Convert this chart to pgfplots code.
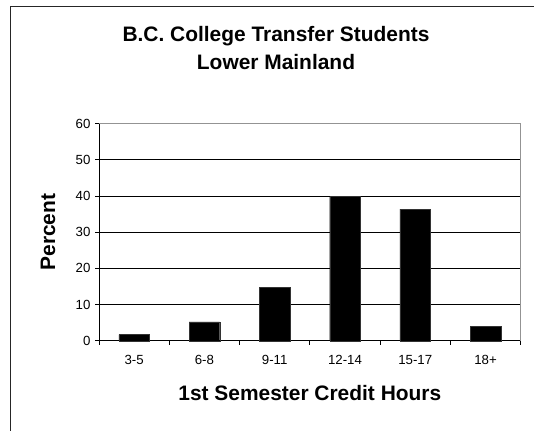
\documentclass[border=0pt]{standalone}
\usepackage{pgfplots}
\pgfplotsset{compat=1.18}
\usepackage{fontspec}
\setmainfont{Liberation Sans}
\begin{document}
\begin{tikzpicture}[x=1bp,y=1bp]
\useasboundingbox (0,0) rectangle (534,430);
\draw[line width=1.3bp, black!85] (10.7,-5) -- (10.7,423.3) -- (545,423.3);
\begin{axis}[
  at={(99bp,89.3bp)}, anchor=south west,
  scale only axis, width=421.7bp, height=217bp,
  xmin=-0.5, xmax=5.5, ymin=0, ymax=60,
  axis lines*=left,
  axis line style={-, black, line width=1bp},
  xtick={0,1,2,3,4,5},
  xticklabels={3-5,6-8,9-11,12-14,15-17,18+},
  minor xtick={-0.5,0.5,1.5,2.5,3.5,4.5,5.5},
  major x tick style={draw=none},
  minor tick length=4bp,
  ytick={0,10,20,30,40,50,60},
  major tick length=4bp,
  tick align=outside,
  tick style={black, line width=0.8bp},
  ymajorgrids,
  grid style={black, line width=0.9bp},
  /pgf/number format/assume math mode=true,
  tick label style={font=\fontsize{13.3}{15}\selectfont},
  xticklabel style={anchor=base, yshift=-20bp},
  yticklabel style={anchor=east, xshift=-1bp},
  xlabel={1st Semester Credit Hours},
  ylabel={Percent},
  label style={font=\fontsize{21}{24}\selectfont\bfseries},
  xlabel style={at={(axis description cs:0.5,-0.2733)}, anchor=base},
  ylabel style={at={(axis description cs:-0.1043,0.5)}, anchor=base},
  clip=false,
]
\addplot[ybar, bar width=0.435, fill=black, draw=black!80] coordinates {
  (0,1.7) (1,5.2) (2,14.8) (3,40.0) (4,36.4) (5,4.0)
};
\draw[gray!85, line width=1.5bp] (rel axis cs:0,1) -- (rel axis cs:1,1) -- (rel axis cs:1,0);
\end{axis}
\node[anchor=base, font=\fontsize{21}{24}\selectfont\bfseries] at (276,388.3) {B.C. College Transfer Students};
\node[anchor=base, font=\fontsize{21}{24}\selectfont\bfseries] at (276,360.7) {Lower Mainland};
\end{tikzpicture}
\end{document}
